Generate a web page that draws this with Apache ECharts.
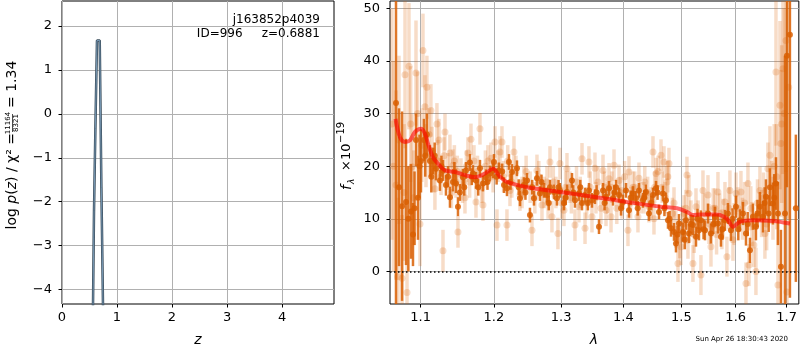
<!DOCTYPE html>
<html>
<head>
<meta charset="utf-8">
<script src="https://cdn.jsdelivr.net/npm/echarts@6/dist/echarts.min.js"></script>
<style>html,body{margin:0;padding:0;background:#fff}#chart{width:800px;height:350px}</style>
</head>
<body>
<div id="chart"></div>
<script>
var FONT = 'DejaVu Sans';

// p(z) panel
var zTicks = [0, 1, 2, 3, 4];
var logpTicks = [-4, -3, -2, -1, 0, 1, 2];
var pzZ = [0.540, 0.564, 0.582, 0.607, 0.636, 0.660, 0.686, 0.716, 0.745, 0.770];
var pzLogp = [-6.0, -4.33, -2.2, -0.33, 1.67, 1.68, 1.67, -1.67, -4.33, -6.0];

// spectrum panel
var lamMin = 1.0606, lamMax = 1.7248;
var lamTicks = [1.1, 1.2, 1.3, 1.4, 1.5, 1.6, 1.7];
var fluxTicks = [0, 10, 20, 30, 40, 50];

var darkWave = [
    1.0682,1.0759,1.0810,1.0874,1.0900,1.0939,1.0965,1.1004,1.1043,1.1082,
    1.1122,1.1162,1.1202,1.1255,1.1296,1.1336,1.1390,1.1431,1.1472,1.1499,
    1.1526,1.1567,1.1609,1.1664,1.1706,1.1748,1.1804,1.1846,1.1888,1.1945,
    1.1988,1.2002,1.2074,1.2146,1.2189,1.2218,1.2262,1.2335,1.2379,1.2438,
    1.2483,1.2527,1.2587,1.2632,1.2677,1.2738,1.2783,1.2829,1.2890,1.2936,
    1.2982,1.3044,1.3091,1.3169,1.3216,1.3279,1.3327,1.3375,1.3438,1.3486,
    1.3534,1.3599,1.3664,1.3713,1.3762,1.3828,1.3877,1.3927,1.3993,1.4043,
    1.4093,1.4160,1.4210,1.4261,1.4329,1.4380,1.4432,1.4501,1.4553,1.4605,
    1.4674,1.4727,1.4762,1.4815,1.4868,1.4903,1.4956,1.5027,1.5081,1.5135,
    1.5207,1.5262,1.5316,1.5352,1.5426,1.5481,1.5536,1.5610,1.5666,1.5722,
    1.5797,1.5853,1.5910,1.6005,1.6081,1.6139,1.6197,1.6274,1.6332,1.6390,
    1.6468,1.6527,1.6586,1.6665,1.6725,1.6785,1.6825,1.6885,1.6966,1.7006,1.7066,1.7187
];
var darkFlux = [
    32.0,12.4,13.2,11.4,7.0,25.0,14.0,21.0,25.0,26.0,
    21.0,21.0,19.5,17.3,19.2,16.4,14.1,17.0,16.7,12.3,
    15.0,17.9,19.2,20.7,18.6,17.3,19.6,16.7,17.9,18.6,
    19.2,20.8,19.2,16.4,15.8,20.8,18.9,19.6,13.9,16.4,
    17.3,10.7,13.9,17.7,14.8,15.4,14.5,16.0,15.1,13.9,
    15.4,13.0,15.1,17.3,13.5,14.8,13.0,14.5,15.4,13.5,
    14.2,8.5,15.4,14.2,15.8,13.9,16.0,14.5,13.2,15.4,
    11.6,14.8,13.9,15.4,13.5,15.1,11.0,14.5,15.8,11.3,
    14.8,13.5,9.7,8.2,7.5,5.3,9.1,7.5,9.7,7.2,
    8.8,6.6,7.8,9.7,7.8,11.0,7.2,10.4,9.1,6.6,
    9.7,11.0,7.8,12.3,9.7,11.0,7.2,4.0,10.4,8.5,
    12.3,10.4,14.2,16.0,12.9,16.7,11.0,0.9,11.0,41.0,45.0,12.0
];
var darkErr = [
    40,18,12,9,6,5,8,6,4,4,
    3,2.5,2.2,2,2,2,2,1.8,1.8,1.8,
    1.6,1.6,1.6,1.6,1.6,1.6,1.6,1.5,1.5,1.5,
    1.5,1.5,1.5,1.5,1.5,1.5,1.5,1.5,1.5,1.5,
    1.4,1.4,1.4,1.4,1.4,1.4,1.4,1.4,1.4,1.4,
    1.4,1.4,1.4,1.4,1.4,1.4,1.4,1.4,1.4,1.4,
    1.4,1.4,1.4,1.4,1.4,1.4,1.4,1.4,1.4,1.4,
    1.4,1.4,1.4,1.4,1.4,1.4,1.4,1.4,1.4,1.4,
    1.5,1.5,1.6,1.6,1.7,1.7,1.8,1.8,1.8,1.8,
    1.9,1.9,1.9,1.9,1.9,1.9,1.9,1.9,1.9,1.9,
    2,2,2,2.1,2.1,2.2,2.3,2.4,2.5,2.6,
    2.8,3,3.3,3.6,4,5,6,7,30,25,50,14
];

// second exposure (dark)
var darkWaveB = [
    1.0720,1.0840,1.0920,1.0985,1.1060,1.1140,1.1185,1.1275,1.1365,1.1450,
    1.1585,1.1690,1.1780,1.1910,1.2040,1.2120,1.2240,1.2360,1.2460,1.2560,
    1.2700,1.2810,1.2960,1.3070,1.3190,1.3300,1.3420,1.3560,1.3690,1.3850,
    1.3960,1.4120,1.4240,1.4350,1.4470,1.4580,1.4700,1.4790,1.4930,1.5060,
    1.5170,1.5290,1.5400,1.5580,1.5750,1.5940,1.6050,1.6230,1.6420,1.6560,
    1.6640,1.6750
];
var darkFluxB = [
    16,10,12,20,22,18,22,20,18,19,
    16,18,16,17,18,19,17,16,15,16,
    17,13,16,14,15,16,13,15,13,15,
    12,14,12,14,13,15,12,10,7,6,
    9,10,8,9,8,10,8,9,11,13,
    11,14
];
var darkErrB = [
    15,10,7,6,4,3,2.5,2,2,1.8,
    1.6,1.6,1.6,1.5,1.5,1.5,1.5,1.5,1.4,1.4,
    1.4,1.4,1.4,1.4,1.4,1.4,1.4,1.4,1.4,1.4,
    1.4,1.4,1.4,1.4,1.4,1.4,1.5,1.5,1.7,1.8,
    1.8,1.9,1.9,1.9,2,2,2.1,2.3,2.6,3,
    3.5,4.5
];

var lightWave = [
    1.0631,1.0682,1.0707,1.0759,1.0797,1.0823,1.0848,1.0887,1.0939,1.0991,
    1.1030,1.1056,1.1082,1.1135,1.1188,1.1215,1.1242,1.1296,1.1323,1.1390,
    1.1431,1.1472,1.1499,1.1540,1.1595,1.1636,1.1678,1.1748,1.1804,1.1846,
    1.1916,1.1959,1.2016,1.2045,1.2088,1.2117,1.2189,1.2233,1.2291,1.2379,
    1.2438,1.2557,1.2632,1.2707,1.2783,1.2829,1.2859,1.2951,1.2982,1.3044,
    1.3091,1.3138,1.3216,1.3279,1.3327,1.3375,1.3438,1.3486,1.3534,1.3583,
    1.3664,1.3713,1.3762,1.3795,1.3844,1.3927,1.3976,1.4076,1.4093,1.4160,
    1.4244,1.4261,1.4346,1.4432,1.4501,1.4518,1.4553,1.4640,1.4692,1.4744,
    1.4779,1.4868,1.4938,1.4992,1.5045,1.5099,1.5117,1.5135,1.5207,1.5262,
    1.5352,1.5389,1.5481,1.5536,1.5610,1.5666,1.5740,1.5797,1.5834,1.5891,
    1.5948,1.6005,1.6100,1.6197,1.6235,1.6255,1.6313,1.6390,1.6468,1.6566,
    1.6625,1.6665,1.6725,1.6785,1.6825,1.6865,1.6885,1.6925,1.6986,1.7006
];
var lightFlux = [
    28.0,16.4,-1.0,-1.3,37.4,-4.0,39.0,19.9,37.7,9.0,
    42.0,31.3,35.0,30.6,15.7,28.0,25.0,3.9,26.5,22.5,
    20.2,17.0,7.5,18.5,14.0,22.5,25.1,13.2,27.1,12.6,
    21.0,21.5,24.6,8.8,22.7,24.6,8.8,15.4,22.7,14.5,
    17.0,7.8,19.2,12.6,17.0,20.8,10.4,7.2,20.5,11.6,
    19.5,16.0,8.8,12.3,21.4,8.2,20.8,10.4,19.6,17.0,
    19.2,11.6,17.6,10.4,20.2,17.3,13.0,7.8,18.9,16.0,
    10.4,17.7,14.0,12.3,22.7,10.0,18.6,22.1,20.8,17.0,
    20.5,13.0,1.5,4.7,11.0,18.3,5.9,14.8,1.5,12.3,
    -0.7,15.4,14.5,4.7,12.0,15.1,8.0,13.2,2.8,15.4,
    6.0,14.8,15.1,-2.3,16.7,1.2,9.0,0.0,15.4,7.2,
    19.5,22.1,12.0,37.9,-2.6,31.6,24.3,38.5,43.9,-3.9
];
var lightErr = [
    22,18,15,12,14,10,12,10,10,8,
    7,6,6,5,4,4,4,4,3.5,3.5,
    3,3,3,3,3,3,3,3,3,3,
    3,3,3,3,3,3,3,3,3,3,
    3,3,3,3,3,3,3,3,3,3,
    3,3,3,3,3,3,3,3,3,3,
    3,3,3,3,3,3,3,3,3,3,
    3,3,3,3,3,3,3,3,3,3,
    3,3,3.5,3.5,3.5,3.5,3.5,3.5,3.5,3.5,
    3.8,3.8,3.8,3.8,3.8,3.8,3.8,3.8,3.8,3.8,
    4,4,4,4,4,4,4.2,4.5,4.5,4.8,
    5,5.5,6,14,12,16,14,20,25,25
];

// second exposure (faint)
var lightWaveB = [
    1.0650,1.0720,1.0785,1.0870,1.0910,1.0960,1.1015,1.1070,1.1110,1.1150,
    1.1175,1.1230,1.1270,1.1310,1.1360,1.1410,1.1450,1.1490,1.1560,1.1615,
    1.1660,1.1720,1.1770,1.1830,1.1880,1.1990,1.2060,1.2140,1.2200,1.2260,
    1.2320,1.2410,1.2470,1.2530,1.2600,1.2660,1.2740,1.2800,1.2880,1.2920,
    1.3010,1.3070,1.3160,1.3240,1.3300,1.3400,1.3460,1.3550,1.3630,1.3690,
    1.3740,1.3810,1.3890,1.3950,1.4020,1.4120,1.4190,1.4290,1.4360,1.4410,
    1.4470,1.4530,1.4590,1.4660,1.4710,1.4760,1.4840,1.4900,1.4970,1.5020,
    1.5080,1.5170,1.5230,1.5300,1.5420,1.5500,1.5580,1.5640,1.5700,1.5760,
    1.5870,1.5970,1.6040,1.6130,1.6170,1.6290,1.6350,1.6420,1.6500,1.6540,
    1.6600,1.6700,1.6750,1.6800,1.6900,1.6950,1.7040
];
var lightFluxB = [
    20,25,15,28,14,30,24,22,26,23,
    19,21,18,22,19,15,21,19,16,20,
    17,21,19,16,20,18,20,18,21,17,
    19,15,19,16,14,18,15,13,17,15,
    13,16,14,17,15,13,16,14,12,16,
    14,16,12,15,18,13,16,14,17,15,
    13,16,19,16,14,18,11,8,6,9,
    12,10,7,10,11,9,12,7,11,10,
    12,9,12,10,13,12,5,13,11,14,
    9,15,20,18,28,30,35
];
var lightErrB = [
    20,16,13,11,9,8,7,6,5,4.5,
    4,4,3.5,3.5,3.5,3,3,3,3,3,
    3,3,3,3,3,3,3,3,3,3,
    3,3,3,3,3,3,3,3,3,3,
    3,3,3,3,3,3,3,3,3,3,
    3,3,3,3,3,3,3,3,3,3,
    3,3,3,3,3,3,3,3.5,3.5,3.5,
    3.5,3.5,3.5,3.5,3.8,3.8,3.8,3.8,3.8,3.8,
    4,4,4,4,4,4.2,4.2,4.5,4.5,4.8,
    5,6,8,10,15,20,25
];

var modelWave = [1.0676,1.0733,1.0797,1.0861,1.0926,1.1004,1.1056,1.1096,1.1162,1.1228,1.1323,1.1458,1.1595,1.1734,1.1874,1.1988,1.2088,1.2189,1.2483,1.2982,1.3502,1.4059,1.4622,1.4921,1.5099,1.5207,1.5334,1.5647,1.5834,1.5948,1.6081,1.6332,1.6725,1.7066];
var modelFlux = [29.0,25.5,24.6,24.9,26.5,27.1,26.2,24.3,21.7,20.5,19.2,18.9,18.3,17.9,18.6,19.5,18.0,17.0,16.0,15.1,14.2,13.2,12.3,12.0,11.3,10.7,10.8,10.8,10.0,8.5,9.4,9.7,9.6,9.1];

var ORANGE_DARK = 'rgba(217,95,2,0.85)';
var ORANGE_LIGHT = 'rgba(217,95,2,0.22)';

function minusFmt(v) {
    return v < 0 ? '\u2212' + Math.abs(v) : String(v);
}

// wavelength axis is logarithmic: plot ln(lambda)
function spectrumData(wave, flux, err) {
    var out = [];
    for (var i = 0; i < wave.length; i++) {
        out.push([Math.log(wave[i]), flux[i], err[i]]);
    }
    return out;
}

function errorbarItem(color, radius, width) {
    return function (params, api) {
        var x = api.value(0), y = api.value(1), e = api.value(2);
        var lo = api.coord([x, y - e]);
        var hi = api.coord([x, y + e]);
        var c = api.coord([x, y]);
        return {
            type: 'group',
            children: [
                {type: 'line', shape: {x1: lo[0], y1: lo[1], x2: hi[0], y2: hi[1]}, style: {stroke: color, lineWidth: width}},
                {type: 'circle', shape: {cx: c[0], cy: c[1], r: radius}, style: {fill: color}}
            ]
        };
    };
}

function axisBase(ticks, fmt, margin) {
    return {
        type: 'value',
        axisLine: {show: false, onZero: false},
        axisTick: {show: true, length: 3.5, lineStyle: {color: '#000', width: 1}, customValues: ticks},
        axisLabel: {customValues: ticks, color: '#000', fontSize: 13, fontFamily: FONT, margin: margin, formatter: fmt},
        splitLine: {show: true, lineStyle: {color: '#b0b0b0', width: 1}}
    };
}

var chart = echarts.init(document.getElementById('chart'), null, {renderer: 'canvas'});

var xz = axisBase(zTicks, minusFmt, 7);
xz.gridIndex = 0; xz.min = 0; xz.max = 4.945;
var ylp = axisBase(logpTicks, minusFmt, 10);
ylp.gridIndex = 0; ylp.min = -4.33; ylp.max = 2.57;

var xlam = axisBase(lamTicks.map(Math.log), function (v) { return Math.exp(v).toFixed(1); }, 7);
xlam.gridIndex = 1; xlam.min = Math.log(lamMin); xlam.max = Math.log(lamMax);
var yf = axisBase(fluxTicks, null, 10);
yf.gridIndex = 1; yf.min = -6.2; yf.max = 51.4;

var pzData = pzZ.map(function (z, i) { return [z, pzLogp[i]]; });
var modelData = modelWave.map(function (w, i) { return [Math.log(w), modelFlux[i]]; });

var txt = function (x, y, text, opt) {
    var style = {text: text, fill: '#000', fontFamily: FONT, fontSize: 14, align: 'left', verticalAlign: 'middle'};
    for (var k in (opt.style || {})) style[k] = opt.style[k];
    return {type: 'text', x: x, y: y, rotation: opt.rotation || 0, style: style, z: 100};
};
var R = Math.PI / 2;

chart.setOption({
    animation: false,
    backgroundColor: '#fff',
    grid: [
        {left: 62, top: 1, width: 272, height: 303, show: true, borderColor: '#000', borderWidth: 1},
        {left: 390, top: 1, width: 409, height: 303, show: true, borderColor: '#000', borderWidth: 1}
    ],
    xAxis: [xz, xlam],
    yAxis: [ylp, yf],
    series: [
        {
            type: 'line', xAxisIndex: 0, yAxisIndex: 0, data: pzData, showSymbol: false,
            lineStyle: {color: '#3a4d5c', width: 2.5}, z: 3
        },
        {
            type: 'line', xAxisIndex: 0, yAxisIndex: 0, data: pzData, showSymbol: false,
            lineStyle: {color: '#86abc9', width: 0.8}, z: 4
        },
        {
            type: 'custom', xAxisIndex: 1, yAxisIndex: 1, clip: true, z: 2,
            renderItem: errorbarItem(ORANGE_LIGHT, 3.5, 3.5),
            data: spectrumData(lightWave, lightFlux, lightErr)
        },
        {
            type: 'custom', xAxisIndex: 1, yAxisIndex: 1, clip: true, z: 2,
            renderItem: errorbarItem(ORANGE_LIGHT, 3.5, 3.5),
            data: spectrumData(lightWaveB, lightFluxB, lightErrB)
        },
        {
            type: 'custom', xAxisIndex: 1, yAxisIndex: 1, clip: true, z: 3,
            renderItem: errorbarItem(ORANGE_DARK, 3, 2.5),
            data: spectrumData(darkWave, darkFlux, darkErr)
        },
        {
            type: 'custom', xAxisIndex: 1, yAxisIndex: 1, clip: true, z: 3,
            renderItem: errorbarItem(ORANGE_DARK, 3, 2.5),
            data: spectrumData(darkWaveB, darkFluxB, darkErrB)
        },
        {
            type: 'line', xAxisIndex: 1, yAxisIndex: 1, data: modelData, showSymbol: false, smooth: 0.35,
            lineStyle: {color: 'rgba(255,0,0,0.6)', width: 4}, z: 5,
            markLine: {
                silent: true, symbol: 'none', label: {show: false},
                lineStyle: {color: '#000', width: 1.5, type: [1.5, 2.5]},
                data: [{yAxis: 0}]
            }
        }
    ],
    graphic: [
        txt(320, 20, 'j163852p4039', {style: {align: 'right', fontSize: 12}}),
        txt(320, 34, 'ID=996     z=0.6881', {style: {align: 'right', fontSize: 12}}),
        txt(198, 340, 'z', {style: {align: 'center', fontStyle: 'italic'}}),
        txt(594, 340, 'λ', {style: {align: 'center', fontStyle: 'italic'}}),
        txt(788, 339, 'Sun Apr 26 18:30:43 2020', {style: {align: 'right', fontSize: 7}}),
        // left y label: log p(z) / chi^2 = 11164/8321 = 1.34
        txt(12.5, 133, '{a|log }{i|p}{a|(}{i|z}{a|) / χ² =}', {rotation: R, style: {
            align: 'right',
            rich: {a: {fontSize: 14, fontFamily: FONT}, i: {fontSize: 14, fontFamily: FONT, fontStyle: 'italic'}}
        }}),
        txt(8.5, 123, '11164', {rotation: R, style: {align: 'center', fontSize: 7}}),
        txt(16.5, 123, '8321', {rotation: R, style: {align: 'center', fontSize: 7}}),
        {type: 'line', shape: {x1: 12.5, y1: 114, x2: 12.5, y2: 132}, style: {stroke: '#000', lineWidth: 0.7}, z: 100},
        txt(12.5, 108, '= 1.34', {rotation: R}),
        // right y label: f_lambda x 10^-19
        txt(347, 190, 'f', {rotation: R, style: {fontStyle: 'italic'}}),
        txt(352, 184, 'λ', {rotation: R, style: {fontSize: 9, fontStyle: 'italic'}}),
        txt(347, 171, '×', {rotation: R, style: {fontSize: 13}}),
        txt(347, 160, '10', {rotation: R, style: {fontSize: 13}}),
        txt(341, 143, '\u221219', {rotation: R, style: {fontSize: 10}})
    ]
});
</script>
</body>
</html>
